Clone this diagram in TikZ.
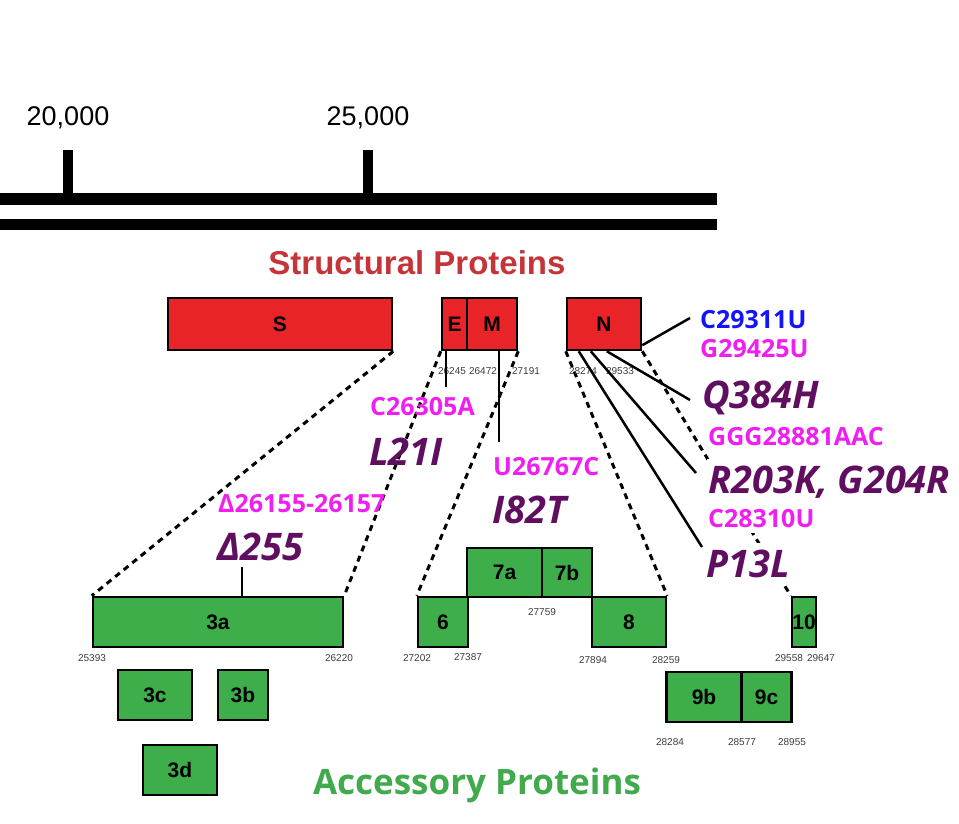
\documentclass[tikz,border=0pt]{standalone}
\usepackage{fontspec}
\setmainfont{Liberation Sans}
\newfontfamily\mutfont{Open Sans}
\usepackage{tikz}
\usetikzlibrary{calc,backgrounds}

\definecolor{protred}{RGB}{232,36,40}
\definecolor{protgreen}{RGB}{61,174,73}
\definecolor{titlered}{RGB}{196,52,56}
\definecolor{accgreen}{RGB}{64,170,76}
\definecolor{mutblue}{RGB}{20,20,250}
\definecolor{mutmag}{RGB}{240,30,240}
\definecolor{mutpurple}{RGB}{96,14,96}
\definecolor{posgray}{RGB}{60,60,60}

\begin{document}
\begin{tikzpicture}[x=1pt,y=-1pt]
	\tikzstyle{axis}=[line width=11pt]
	\tikzstyle{tick}=[line width=10pt]
	\tikzstyle{prot}=[draw=black,line width=2.5pt,inner sep=0pt,
	                  font=\bfseries\fontsize{21}{21}\selectfont]
	\tikzstyle{struct}=[prot,fill=protred,minimum height=52pt]
	\tikzstyle{acc}=[prot,fill=protgreen,minimum height=50pt]
	\tikzstyle{posnum}=[inner sep=0pt,text=posgray,font=\fontsize{10}{10}\selectfont]
	\tikzstyle{nuc}=[anchor=base west,inner sep=1pt,text=mutmag,
	                 font=\mutfont\bfseries\fontsize{25}{25}\selectfont]
	\tikzstyle{aa}=[anchor=base west,inner sep=1pt,text=mutpurple,
	                font=\mutfont\bfseries\itshape\fontsize{38}{38}\selectfont]
	\tikzstyle{cover}=[fill=white,inner ysep=6pt]
	\tikzstyle{dotline}=[draw,line width=3pt,dash pattern=on 6pt off 5pt]
	\tikzstyle{pointer}=[line width=2.5pt]

	\useasboundingbox (0,0) rectangle (959,824);

	% genome scale
	\node[anchor=base,font=\fontsize{27}{27}\selectfont] (k20) at (68,126) {20,000};
	\node[anchor=base,font=\fontsize{27}{27}\selectfont] (k25) at (368,126) {25,000};
	\draw[tick] (68,150) -- (68,199);
	\draw[tick] (368,150) -- (368,199);
	\draw[axis] (0,199) -- (717,199);
	\draw[axis] (0,224) -- (717,224);

	% titles
	\node[text=titlered,font=\bfseries\fontsize{33}{33}\selectfont] (structTitle) at (417,263) {Structural Proteins};
	\node[text=accgreen,font=\mutfont\bfseries\fontsize{35}{35}\selectfont] (accTitle) at (477,785) {Accessory Proteins};

	% structural proteins
	\node[struct,minimum width=224pt] (S) at (280,324) {S};
	\node[struct,minimum width=25pt]  (E) at (454.5,324) {E};
	\node[struct,minimum width=50pt]  (M) at (492,324) {M};
	\node[struct,minimum width=74pt]  (N) at (604,324) {N};

	% accessory proteins
	\node[acc,minimum width=250pt] (orf3a) at (218,622) {3a};
	\node[acc,minimum width=74pt]  (orf3c) at (155,695) {3c};
	\node[acc,minimum width=50pt]  (orf3b) at (243,695) {3b};
	\node[acc,minimum width=74pt]  (orf3d) at (180,770) {3d};
	\node[acc,minimum width=50pt]  (orf6)  at (443,622) {6};
	\node[acc,minimum width=75pt,minimum height=49pt] (orf7a) at (504.5,572.5) {7a};
	\node[acc,minimum width=50pt,minimum height=49pt] (orf7b) at (567,572.5) {7b};
	\node[acc,minimum width=74pt]  (orf8)  at (629,622) {8};
	\node[acc,minimum width=24pt]  (orf10) at (804,622) {10};
	\node[acc,minimum width=75pt]  (orf9b) at (704,697) {9b};
	\node[acc,minimum width=50pt]  (orf9c) at (766.5,697) {9c};

	% genome positions
	\node[posnum] (p26245) at (452,371) {26245};
	\node[posnum] (p26472) at (483,371) {26472};
	\node[posnum] (p27191) at (526,371) {27191};
	\node[posnum] (p28274) at (583,371) {28274};
	\node[posnum] (p29533) at (620,371) {29533};
	\node[posnum] (p25393) at (92,658) {25393};
	\node[posnum] (p26220) at (339,658) {26220};
	\node[posnum] (p27202) at (417,658) {27202};
	\node[posnum] (p27387) at (468,657) {27387};
	\node[posnum] (p27759) at (542,612) {27759};
	\node[posnum] (p27894) at (593,660) {27894};
	\node[posnum] (p28259) at (666,660) {28259};
	\node[posnum] (p29558) at (789,658) {29558};
	\node[posnum] (p29647) at (821,658) {29647};
	\node[posnum] (p28284) at (670,742) {28284};
	\node[posnum] (p28577) at (742,742) {28577};
	\node[posnum] (p28955) at (792,742) {28955};

	% mutations
	\node[nuc,fill=white,text=mutblue] (c29311u) at (699,328) {C29311U};
	\node[nuc,fill=white] (g29425u) at (699,357) {G29425U};
	\node[aa,fill=white] (q384h) at (701,408) {Q384H};
	\node[nuc,fill=white] (ggg28881aac) at (707,445) {GGG28881AAC};
	\node[aa,cover] (r203k) at (707,493) {R203K, G204R};
	\node[nuc,cover] (c28310u) at (707,527) {C28310U};
	\node[aa,cover] (p13l) at (705,577) {P13L};
	\node[nuc] (c26305a) at (369,415) {C26305A};
	\node[aa] (l21i) at (368,465) {L21I};
	\node[nuc] (u26767c) at (492,475) {U26767C};
	\node[aa] (i82t) at (491,523) {I82T};
	\node[nuc] (del26155) at (217,512) {Δ26155-26157};
	\node[aa] (del255) at (216,560) {Δ255};

	\coordinate (eTip) at (446,387);
	\coordinate (mTip) at (499,442);
	\coordinate (dTip) at (242,567);
	\coordinate (nTipA) at (690,318);
	\coordinate (nTipB) at (690,400);
	\coordinate (nTipC) at (696,473);
	\coordinate (nTipD) at (702,547);

	% pointers to the mutations
	\draw[pointer] (eTip |- E.south) -- (eTip);
	\draw[pointer] (mTip |- M.south) -- (mTip);
	\draw[pointer] (dTip) -- (dTip |- orf3a.north);
	\draw[pointer] ($(N.south east)+(0,-6)$) -- (nTipA);
	\draw[pointer] ($(N.south west)+(41,0)$) -- (nTipB);
	\draw[pointer] ($(N.south west)+(25,0)$) -- (nTipC);
	\draw[pointer] ($(N.south west)+(13,0)$) -- (nTipD);

	% zoom lines
	\begin{scope}[on background layer]
	\path[dotline] (S.south east) edge (orf3a.north west)
	               (E.south west) edge (orf3a.north east)
	               (M.south east) edge (orf6.north west)
	               (N.south west) edge (orf8.north east)
	               (N.south east) edge (orf10.north west);
	\end{scope}
\end{tikzpicture}
\end{document}
